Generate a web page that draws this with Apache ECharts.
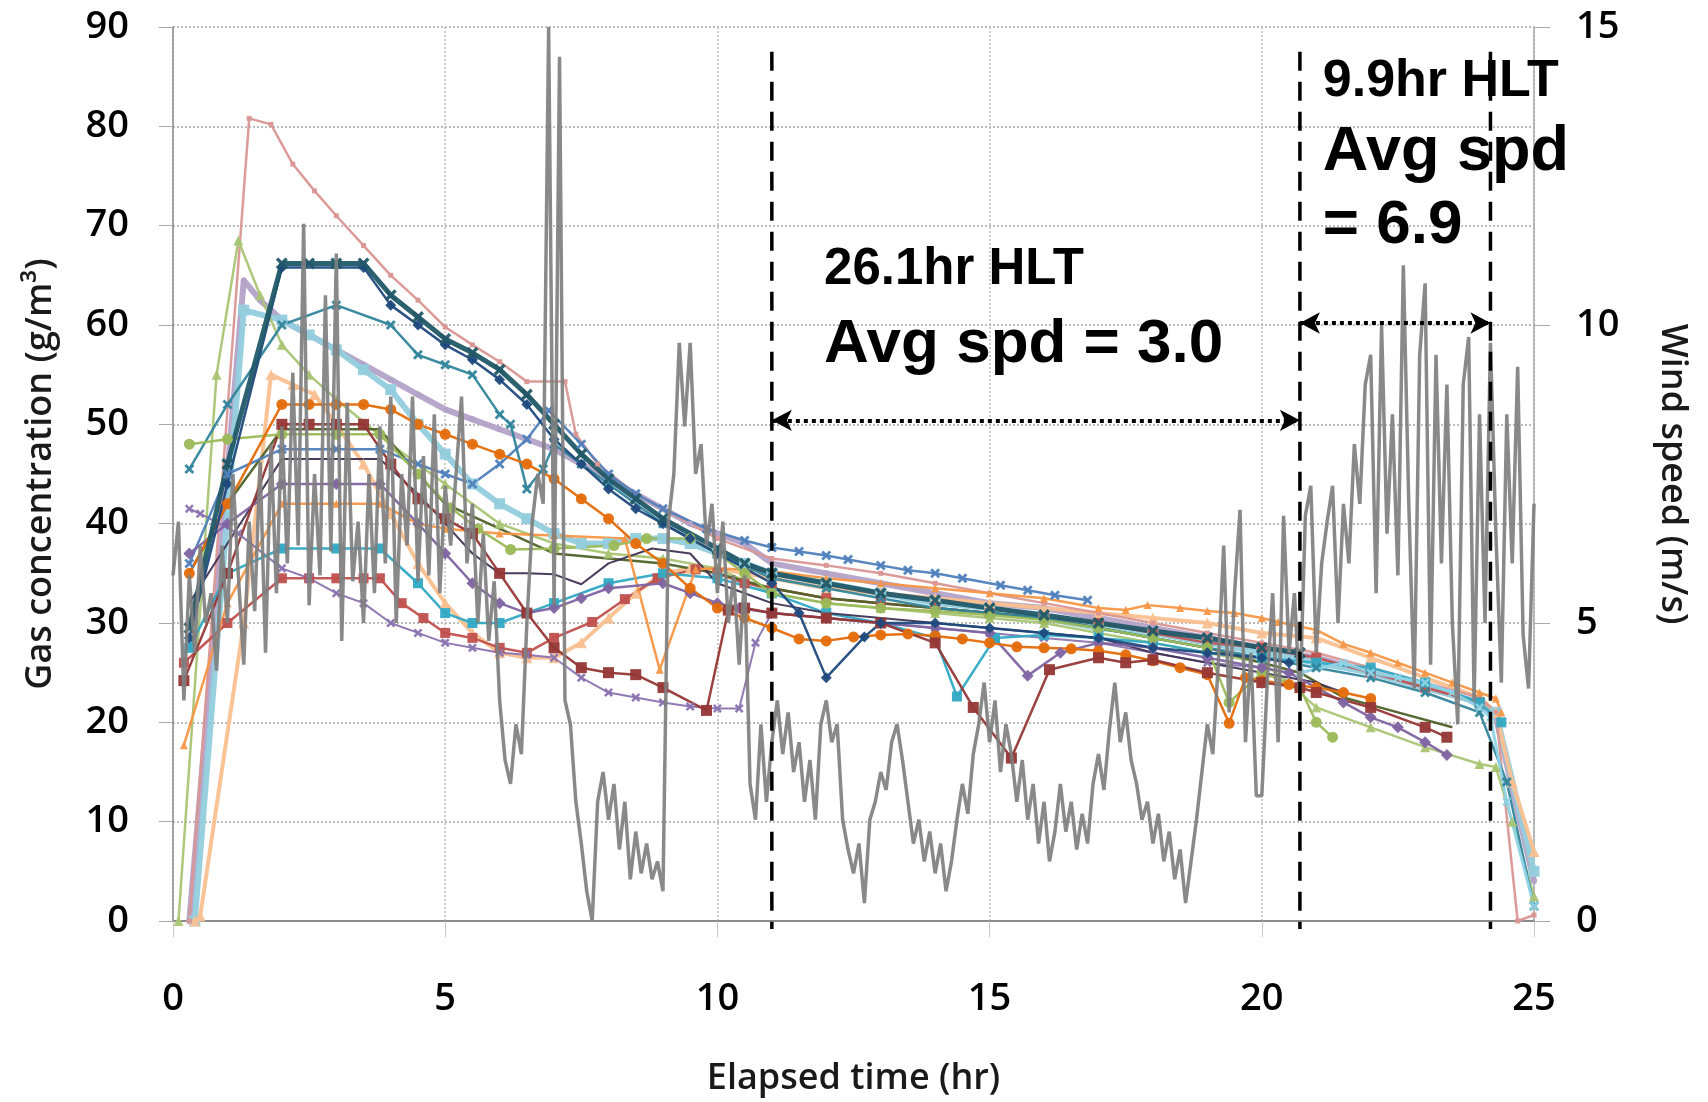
<!DOCTYPE html>
<html><head><meta charset="utf-8">
<script src="https://cdn.jsdelivr.net/npm/echarts@6/dist/echarts.min.js"></script>
<style>html,body{margin:0;padding:0;background:#fff}#c{width:1708px;height:1102px}</style>
</head><body><div id="c"></div>
<script>
// ---------- axis ticks ----------
const xTicks = [0, 5, 10, 15, 20, 25];
const gasTicks = [0, 10, 20, 30, 40, 50, 60, 70, 80, 90];
const windTicks = [0, 5, 10, 15];

// ---------- wind speed (m/s), sampled every 0.1 hr from 0 to 25 ----------
const windStep = 0.1;
const windSpeed = [
 5.8,6.7,3.7,5.8,4.5,6.3,5.0,5.5,4.2,6.3,
 5.0,7.5,5.8,4.3,6.7,5.2,7.7,4.5,8.0,5.5,
 8.3,6.0,9.2,6.3,11.7,5.3,7.5,5.8,10.5,6.2,
 11.2,4.7,8.7,5.7,6.7,5.0,7.5,5.5,8.3,6.0,
 8.8,5.0,7.5,6.3,8.8,5.7,7.8,5.8,8.5,5.5,
 7.3,6.3,7.5,8.8,6.0,7.0,5.0,6.5,4.7,5.7,
 3.7,2.7,2.3,3.3,2.8,5.0,6.7,7.5,7.0,15.0,
 5.3,14.5,3.7,3.3,2.0,1.3,0.5,0.0,2.0,2.5,
 1.7,2.3,1.2,2.0,0.7,1.5,0.8,1.3,0.7,1.0,
 0.5,6.7,7.5,9.7,8.3,9.7,7.5,8.0,6.3,7.0,
 5.5,6.7,5.0,5.8,4.3,5.8,2.3,1.7,3.3,2.0,
 3.0,3.7,2.8,3.5,2.5,3.0,2.0,2.7,1.7,3.3,
 3.7,3.0,3.3,1.7,1.2,0.8,1.3,0.3,1.7,2.0,
 2.5,2.2,3.0,3.3,2.7,2.0,1.3,1.7,1.0,1.5,
 0.8,1.3,0.5,1.0,1.7,2.3,1.8,2.8,3.3,4.0,
 3.0,3.7,2.5,3.3,2.8,2.0,2.7,1.7,2.3,1.3,
 2.0,1.0,1.5,2.3,1.5,2.0,1.2,1.8,1.3,2.3,
 2.8,2.2,3.2,4.0,3.0,3.5,2.7,2.3,1.7,2.0,
 1.3,1.8,1.0,1.5,0.7,1.2,0.3,1.0,1.7,2.5,
 3.3,2.8,4.3,6.3,3.5,5.5,6.9,3.0,4.5,2.1,
 2.1,4.0,5.5,3.0,6.8,4.5,5.5,3.7,6.8,7.3,
 4.5,6.0,6.7,7.3,5.0,7.0,6.0,8.0,7.0,9.0,
 9.5,5.5,10.0,6.5,8.5,5.8,11.0,7.0,3.9,9.5,
 10.7,4.3,9.5,6.0,9.0,5.0,3.3,9.0,9.8,3.7,
 8.5,5.0,9.7,6.5,4.0,8.5,6.0,9.3,4.8,3.9,
 7.0
];

// ---------- gas concentration series (g/m3), [hr, value] ----------
const gasLavender = [[0.3,0],[1.3,64.5],[1.6,62.5],[2,60.5],[2.5,59],[3,57.5],[3.5,56],[4,54.5],[4.5,53],[5,51.5],[5.5,50.5],[6,49.5],[6.5,48.5],[7,47.5],[7.5,46],[8,44.5],[8.5,43],[9,41.5],[9.5,40],[10,39],[10.5,38],[11,36],[12,35],[13,34],[14,33],[15,32],[16,31.5],[17,30.5],[18,29.5],[19,28.5],[20,27.5],[21,26.5],[22,25],[23,23.5],[24,22],[24.3,20.5],[25,4]];
const gasLightBlue = [[0.4,0],[1.3,61.5],[2,60.5],[2.5,59],[3,57.5],[3.5,55.5],[4,53.5],[4.5,50],[5,47],[5.5,44],[6,42],[6.5,40.5],[7,39],[7.5,38],[8,38],[8.5,38.5],[9,38.5],[9.5,38],[10,37],[10.5,36],[11,35],[12,34],[13,33],[14,32],[15,31.5],[16,30.5],[17,29.5],[18,29],[19,28],[20,27],[21,26],[22,25],[23,23.5],[24,22],[24.3,21],[25,5]];
const gasPink = [[0.3,0],[1.4,80.8],[1.8,80.2],[2.2,76.2],[2.6,73.5],[3,71],[3.5,68],[4,65],[4.5,62.5],[5,59.8],[5.5,58],[6,56.3],[6.5,54.3],[7.2,54.3],[7.4,49],[7.8,46],[8.5,43],[9,41.5],[10,38.5],[11,36.5],[12,35.8],[13,35],[14,34],[15,33],[16,32],[17,31],[18,30],[19,29],[20,28],[21,27],[22,25.5],[23,24],[24,22.5],[24.3,21],[24.7,0],[25,0.6]];
const gasDarkTeal = [[0.3,29.5],[1,46],[2,66.2],[2.5,66.2],[3,66.2],[3.5,66.2],[4,63],[4.5,60.8],[5,58.6],[5.5,57.2],[6,55.5],[6.5,53],[7,50],[7.5,47],[8,44.5],[8.5,42.5],[9,40.5],[10,37.5],[10.5,36],[11,35],[12,34],[13,33],[14,32.3],[15,31.5],[16,30.8],[17,30],[18,29.2],[19,28.5],[20,27.5],[20.7,27]];
const gasNavy = [[0.3,28.5],[1,44],[2,65.8],[3.5,65.8],[4,62],[4.5,60],[5,58],[5.5,56.5],[6,54.5],[6.5,52],[7,48.5],[7.5,46],[8,43.5],[8.5,41.5],[9,40],[9.5,38.5],[10,37],[11,34],[11.5,31],[12,24.5],[12.7,28.6],[13,30],[14,30],[15,29.5],[16,29],[17,28.5],[18,27.5],[19,27],[20,26.5],[20.5,26]];
const gasTealX = [[0.3,45.5],[1,52],[2,60],[3,62],[4,60],[4.5,57],[5,56],[5.5,55],[6,51],[6.2,50],[6.5,43.5],[6.8,45.5],[7,48],[7.5,46],[8,44],[9,40],[10,37],[11,34.5],[12,33.5],[13,32.5],[14,31.5],[15,31],[16,30.5],[17,29.5],[18,28.5],[19,27.5],[20,26.5],[21,25.5],[22,24.5],[23,23],[24,21],[24.5,14],[25,1.5]];
const gasGreenTri = [[0.1,0],[0.8,55],[1.2,68.5],[1.6,63],[2,58],[2.5,55],[3,52.5],[4,48],[5,44],[6,40],[7,38],[8,37],[9,36.5],[10,35.5],[11,33],[12,32],[13,31.5],[14,31],[15,30.5],[16,30],[17,29],[18,28],[19,27],[20,26],[20.5,24],[21,21.5],[22,19.5],[23,17.5],[24,15.8],[24.3,15.5],[24.6,10],[25,2.5]];
const gasPeach = [[0.4,0],[0.5,0.5],[1.3,30],[1.8,55],[2.2,54],[2.6,53],[3,50],[3.5,46],[4,41],[4.5,36],[5,32],[5.5,29],[6,27],[6.5,26.5],[7,26.5],[7.5,28],[8,30.5],[8.5,33],[9,35],[9.5,35.5],[10,35.5],[11,34.5],[12,33.5],[13,33],[14,32.5],[15,32],[16,31.5],[17,31],[18,30.5],[19,30],[20,29],[21,28.5],[22,26.5],[23,24.5],[24,22.5],[24.3,21],[24.6,14],[25,7]];
const gasOrangeCircle = [[0.3,35],[1,42],[2,52],[2.5,52],[3,52],[3.5,52],[4,51.5],[4.5,50],[5,49],[5.5,48],[6,47],[6.5,46],[7,44.5],[7.5,42.5],[8,40.5],[8.5,38],[9,36],[9.5,33.5],[10,31.5],[10.5,30.5],[11,29.5],[11.5,28.4],[12,28.2],[12.5,28.6],[13,28.8],[13.5,28.9],[14,28.7],[14.5,28.4],[15,28],[15.5,27.6],[16,27.5],[16.5,27.4],[17,27.2],[17.5,26.8],[18,26.2],[18.5,25.5],[19,24.8],[19.4,19.9],[19.7,24.5],[20,24.2],[20.5,23.8],[21,23.5],[21.5,23],[22,22.4]];
const gasDarkRed = [[0.2,24.2],[1,35],[2,50],[2.5,50],[3,50],[3.5,50],[4,46],[4.5,42.5],[5,40.5],[5.5,39],[6,35],[6.5,31],[7,27.5],[7.5,25.5],[8,25],[8.5,24.8],[9,23.5],[9.8,21.2],[10.2,31.3],[10.5,31.5],[11,31],[12,30.5],[13,30],[14,28],[14.7,21.5],[15.4,16.4],[16.1,25.3],[17,26.5],[17.5,26],[18,26.3],[19,25],[20,24],[20.7,23.5],[21,23],[22,21.5],[23,19.5],[23.4,18.5]];
const gasRed = [[0.2,26],[1,30],[2,34.5],[2.5,34.5],[3,34.5],[3.5,34.5],[3.8,34.5],[4.2,32],[4.6,30.5],[5,29],[5.5,28.5],[6,27.5],[6.5,27],[7,28.5],[7.7,30.1],[8.3,32.4],[8.9,34.5],[9.6,35.4],[10,35],[10.5,34],[11,33.5],[12,32.5],[13,32],[14,31.5],[15,31],[16,30.5],[17,30],[18,29],[19,28],[20,27.5],[21,26.5],[22,25],[23,23.5],[24,22]];
const gasPurple = [[0.3,37],[1,40],[2,44],[3,44],[3.8,44],[4.5,40],[5,37],[5.5,34],[6,32],[6.5,31],[7,31.5],[7.5,32.5],[8,33.5],[9,34],[9.5,33],[10,32],[10.4,31.5],[11,31],[12,30.5],[13,30],[14,29.5],[15,29],[15.7,24.7],[16.3,27],[17,28],[18,27.5],[19,26.5],[20,25.5],[20.5,25],[21,23.5],[21.5,22],[22,20.5],[22.5,19.5],[23,18],[23.4,16.7]];
const gasPurpleX = [[0.3,41.5],[0.5,41],[1.2,39],[2,35.5],[2.5,34.5],[3,33],[3.5,32],[4,30],[4.5,29],[5,28],[5.5,27.5],[6,27],[6.5,26.8],[7,26.5],[7.5,24.5],[8,23],[8.5,22.5],[9,22],[9.5,21.6],[10,21.4],[10.4,21.4],[10.7,28],[11,31],[12,30.5],[13,30],[14,29.5],[15,29],[16,28.5],[17,28],[18,27],[19,26],[20,25.5]];
const gasBlueX = [[0.3,36],[1,45],[2,47.5],[3,47.5],[3.8,47.5],[4.5,46],[5,45],[5.5,44],[6,46],[6.5,48.5],[6.9,51.4],[7.5,48],[8,45],[8.5,43],[9,41.5],[9.8,39.5],[10.5,38.3],[11,37.6],[11.5,37.2],[12,36.8],[12.4,36.4],[13,35.8],[13.5,35.3],[14,35],[14.5,34.5],[15.2,33.8],[15.7,33.3],[16.2,32.8],[16.8,32.3]];
const gasOrange = [[0.2,17.7],[1,32],[2,42],[3,42],[3.8,42],[4.5,40],[5,39.5],[6,39],[7,38.8],[8.3,38.5],[8.94,25.3],[9.6,35.4],[10,35.5],[11,35.2],[12,34.5],[13,34],[14,33.5],[15,33],[16,32.5],[17,31.5],[17.5,31.3],[17.9,31.8],[18.5,31.5],[19,31.2],[19.5,31],[20,30.5],[20.3,30.1],[21,29.3],[21.5,27.9],[22,27],[22.5,26],[23,25],[23.5,24],[24,23],[24.3,22.4],[24.4,21]];
const gasAqua = [[0.3,27.5],[1,35],[2,37.5],[3,37.5],[3.8,37.5],[4.5,34],[5,31],[5.5,30],[6,30],[7,32],[8,34],[9,35],[10,34.5],[11,33],[12,31],[13,30],[14,28.5],[14.4,22.6],[15.1,28.5],[16,28.8],[17,28.5],[18,28],[19,27],[20,26.5],[21,26],[22,25.5],[23,24],[24,22],[24.4,20]];
const gasGreenCircle = [[0.3,48],[1,48.5],[2,49],[3,49],[3.8,49],[4.5,45],[5.1,41.6],[5.6,39.5],[6.2,37.4],[7,37.5],[8.1,37.8],[8.7,38.5],[9.5,38.5],[10,37],[10.5,35],[11,33],[12,32],[13,31.5],[14,31.2],[15,30.8],[16,30.3],[17,29.5],[18,28.5],[19,27.5],[19.4,22],[20,25],[20.7,23.5],[21,20],[21.3,18.5]];
const gasDarkGreen = [[0.3,35],[1,42],[2,49.5],[3,49.5],[3.8,49.5],[4.5,45],[5,42],[6,39.5],[6.6,38],[7,37],[8,36.5],[9,36],[10,35],[11,33.5],[12,32.5],[13,32],[14,31.5],[15,31],[16,30.5],[17,29.5],[18,28.5],[19,27.5],[20,26],[20.7,25],[21.5,22.5],[22.5,21],[23.5,19.5]];
const gasDarkPurple = [[0.3,32],[1,38],[2,46.5],[3.8,46.5],[4.5,43],[5,40],[5.5,37],[6,35],[6.5,35],[7,34.9],[7.5,33.9],[8,36],[8.8,37.5],[9.5,37],[10,34],[10.5,33],[11,32],[12,31],[13,30.5],[14,30],[15,29.5],[16,29],[17,28.5],[18,27],[19,26],[20,25],[21,24],[21.5,23]];
const gasCyanLate = [[20.7,25],[21.5,26],[22,25],[22.5,24.5],[23,24],[23.5,23],[24,21.5],[24.2,20.5],[24.5,12],[25,1.5]];

// ---------- annotations ----------
const hltBounds = [11.0, 20.7, 24.2];
const hltTop = 87.5;
const hltSpans = [[11.0, 20.7, 50.4], [20.7, 24.2, 60.2]];
const notes = [
  {text: '26.1hr HLT', x: 11.96, y: 65.5, size: 51},
  {text: 'Avg spd = 3.0', x: 11.96, y: 58.0, size: 62},
  {text: '9.9hr HLT', x: 21.12, y: 84.5, size: 52},
  {text: 'Avg spd', x: 21.12, y: 77.4, size: 63},
  {text: '= 6.9', x: 21.12, y: 70.0, size: 62}
];

const X_PATH = 'path://M0,2L2,0L5,3L8,0L10,2L7,5L10,8L8,10L5,7L2,10L0,8L3,5Z';
const gasSeries = [
  {data: gasLavender, color: '#B3A2C7', symbol: 'circle', size: 6, width: 6},
  {data: gasLightBlue, color: '#93CDDD', symbol: 'rect', size: 11, width: 6},
  {data: gasPeach, color: '#FAC090', symbol: 'triangle', size: 11, width: 4},
  {data: gasPink, color: '#D99694', symbol: 'rect', size: 5, width: 2.5},
  {data: gasGreenTri, color: '#A9C574', symbol: 'triangle', size: 10, width: 2.5},
  {data: gasRed, color: '#C0504D', symbol: 'rect', size: 10, width: 2.5},
  {data: gasPurpleX, color: '#8A73B0', symbol: X_PATH, size: 9, width: 2},
  {data: gasAqua, color: '#31A9C4', symbol: 'rect', size: 10, width: 2.5},
  {data: gasDarkGreen, color: '#4F6228', symbol: 'none', size: 0, width: 2.5},
  {data: gasDarkPurple, color: '#403152', symbol: 'none', size: 0, width: 2},
  {data: gasOrange, color: '#F79646', symbol: 'triangle', size: 8, width: 2.5},
  {data: gasBlueX, color: '#4F81BD', symbol: X_PATH, size: 10, width: 2.5},
  {data: gasTealX, color: '#31859C', symbol: X_PATH, size: 10, width: 2.5},
  {data: gasGreenCircle, color: '#9BBB59', symbol: 'circle', size: 11, width: 2.5},
  {data: gasPurple, color: '#8064A2', symbol: 'diamond', size: 12, width: 2.5},
  {data: gasOrangeCircle, color: '#E46C0A', symbol: 'circle', size: 11, width: 2.5},
  {data: gasDarkRed, color: '#953735', symbol: 'rect', size: 11, width: 2.5},
  {data: gasNavy, color: '#1F497D', symbol: 'diamond', size: 11, width: 2.5},
  {data: gasDarkTeal, color: '#215968', symbol: X_PATH, size: 12, width: 5},
  {data: gasCyanLate, color: '#8ED3E6', symbol: X_PATH, size: 9, width: 3}
];

const chart = echarts.init(document.getElementById('c'), null, {renderer: 'canvas'});
const labelFont = {fontFamily: 'Open Sans', fontSize: 38, fontWeight: 600, color: '#000'};
const nameFont = {fontFamily: 'Open Sans', fontSize: 36, fontWeight: 600, color: '#1a1a1a'};

const series = gasSeries.map(s => ({
  type: 'line', data: s.data, xAxisIndex: 0, yAxisIndex: 0,
  symbol: s.symbol, symbolSize: s.size, showSymbol: s.symbol !== 'none',
  showAllSymbol: true, animation: false, z: 3,
  lineStyle: {color: s.color, width: s.width, opacity: 0.95},
  itemStyle: {color: s.color, opacity: 0.95}
}));

series.push({
  type: 'line', yAxisIndex: 1, z: 4, animation: false,
  data: windSpeed.map((v, i) => [+(i * windStep).toFixed(2), v]),
  symbol: 'none', lineStyle: {color: '#7F7F7F', width: 3.5, opacity: 0.92}
});

series.push({
  type: 'line', data: [], z: 10, clip: false, animation: false,
  markLine: {
    silent: true, animation: false, symbol: ['arrow', 'arrow'], symbolSize: [16, 20],
    label: {show: false},
    lineStyle: {color: '#000', width: 4, type: [4, 4]},
    data: hltSpans.map(s => [{coord: [s[0], s[2]]}, {coord: [s[1], s[2]]}])
  }
});

chart.setOption({
  backgroundColor: '#fff',
  animation: false,
  grid: {left: 173, right: 174, top: 27, bottom: 176, containLabel: false},
  xAxis: {
    type: 'value', min: 0, max: 25, interval: 5,
    name: 'Elapsed time (hr)', nameLocation: 'middle', nameGap: 140,
    nameTextStyle: nameFont,
    axisLine: {show: true, onZero: false, lineStyle: {color: '#8C8C8C', width: 2}},
    axisTick: {show: true, length: 16, lineStyle: {color: '#C8C8C8', width: 1}},
    splitLine: {show: true, lineStyle: {color: '#BDBDBD', width: 1.5, type: [2, 2]}},
    axisLabel: Object.assign({margin: 59, formatter: v => xTicks.includes(v) ? String(v) : ''}, labelFont)
  },
  yAxis: [
    {
      type: 'value', min: 0, max: 90, interval: 10, position: 'left',
      name: 'Gas concentration (g/m³)', nameLocation: 'middle', nameGap: 114, nameRotate: 90,
      nameTextStyle: nameFont,
      axisLine: {show: true, lineStyle: {color: '#8C8C8C', width: 1.5}},
      axisTick: {show: true, length: 14, lineStyle: {color: '#A8A8A8', width: 1}},
      splitLine: {show: true, lineStyle: {color: '#A8A8A8', width: 1.5, type: [2, 2]}},
      axisLabel: Object.assign({margin: 44, formatter: v => gasTicks.includes(v) ? String(v) : ''}, labelFont)
    },
    {
      type: 'value', min: 0, max: 15, interval: 5, position: 'right',
      name: 'Wind speed (m/s)', nameLocation: 'middle', nameGap: 120, nameRotate: -90,
      nameTextStyle: nameFont,
      axisLine: {show: true, lineStyle: {color: '#A8A8A8', width: 1.5}},
      axisTick: {show: true, length: 16, lineStyle: {color: '#A8A8A8', width: 1}},
      splitLine: {show: false},
      axisLabel: Object.assign({margin: 42, formatter: v => windTicks.includes(v) ? String(v) : ''}, labelFont)
    }
  ],
  series: series
});

const graphics = [];
hltBounds.forEach(x => {
  const pTop = chart.convertToPixel({xAxisIndex: 0, yAxisIndex: 0}, [x, hltTop]);
  const pBot = chart.convertToPixel({xAxisIndex: 0, yAxisIndex: 0}, [x, 0]);
  graphics.push({
    type: 'line', z: 90, silent: true,
    shape: {x1: pTop[0], y1: pTop[1], x2: pBot[0], y2: pBot[1] + 8},
    style: {stroke: '#000', lineWidth: 3.5, lineDash: [19, 11]}
  });
});
notes.forEach(n => {
  const p = chart.convertToPixel({xAxisIndex: 0, yAxisIndex: 0}, [n.x, n.y]);
  graphics.push({
    type: 'text', x: p[0], y: p[1], z: 100,
    style: {text: n.text, fill: '#000', font: 'bold ' + n.size + 'px "Liberation Sans", Arial, sans-serif',
            textAlign: 'left', textVerticalAlign: 'middle'}
  });
});
chart.setOption({graphic: graphics});
</script>
</body></html>
